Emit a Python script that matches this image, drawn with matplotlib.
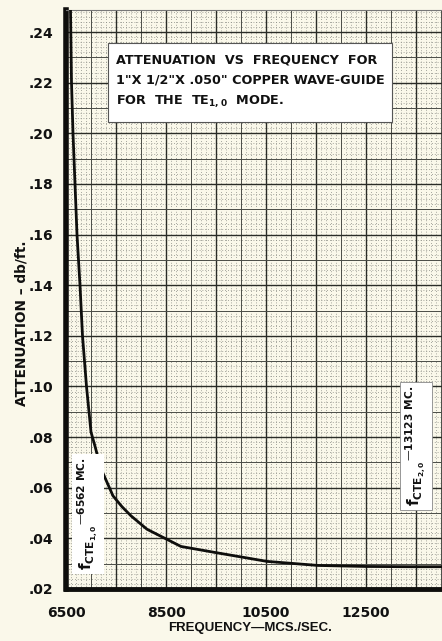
import matplotlib.pyplot as plt
from matplotlib.patches import Rectangle
import numpy as np

# attenuation curve
freq_mc = [6590, 6610, 6640, 6680, 6720, 6780, 6830, 6910, 7000, 7080, 7200, 7440, 7620,
           7800, 8120, 8800, 9460, 10520, 11540, 12500, 13400, 14020]
atten_db = [0.249, 0.22, 0.20, 0.18, 0.16, 0.14, 0.12, 0.10, 0.082, 0.0764, 0.0675, 0.0568,
            0.0525, 0.0489, 0.0436, 0.0368, 0.0345, 0.0309, 0.0293, 0.0289, 0.0288, 0.0288]

x_ticks = [6500, 8500, 10500, 12500]
x_tick_labels = ['6500', '8500', '10500', '12500']
y_ticks = [0.02, 0.04, 0.06, 0.08, 0.10, 0.12, 0.14, 0.16, 0.18, 0.20, 0.22, 0.24]
y_tick_labels = ['.02', '.04', '.06', '.08', '.10', '.12', '.14', '.16', '.18', '.20', '.22', '.24']

titulo = ['ATTENUATION  VS  FREQUENCY  FOR',
          '1"X 1/2"X .050" COPPER WAVE-GUIDE',
          r'FOR  THE  TE$_{\mathregular{1,0}}$  MODE.']
corte_1 = r'f$_{\mathregular{CTE}_{\mathregular{1,0}}}$$^{\mathregular{—6562\ MC.}}$'
corte_2 = r'f$_{\mathregular{CTE}_{\mathregular{2,0}}}$$^{\mathregular{—13123\ MC.}}$'

papel = '#faf8ea'
tinta = '#2a2c27'
W, H = 442, 641

def px(x, y):
    return x / W, 1 - y / H

plt.rcParams['font.family'] = 'DejaVu Sans'
plt.rcParams['font.weight'] = 'bold'
plt.rcParams['mathtext.default'] = 'regular'

fig = plt.figure(figsize=(W / 100, H / 100), dpi=100, facecolor=papel)
ax = fig.add_axes([66 / W, 1 - 589 / H, (W - 66) / W, (589 - 10) / H])
ax.set_facecolor(papel)
ax.set_xlim(6500, 6500 + (W - 66) * 20)
ax.set_ylim(0.02, 0.2487)

# papel milimetrado: lineas gruesas, medias y punteadas
for f in range(6500, 14100, 100):
    if (f - 6500) % 1000 == 0:
        ax.axvline(f, color=tinta, lw=1.0, zorder=1)
    elif (f - 6500) % 500 == 0:
        ax.axvline(f, color='#4a4c46', lw=0.7, zorder=1)
    else:
        ax.axvline(f, color='#8a8c85', lw=0.6, linestyle=(0, (1, 2.4)), zorder=0.5)
for i in range(0, 115):
    y = 0.02 + i * 0.002
    if i % 10 == 0:
        ax.axhline(y, color=tinta, lw=1.0, zorder=1)
    elif i % 5 == 0:
        ax.axhline(y, color='#4a4c46', lw=0.7, zorder=1)
    else:
        ax.axhline(y, color='#8a8c85', lw=0.6, linestyle=(0, (1, 2.4)), zorder=0.5)

ax.plot(freq_mc, atten_db, color='#0e0e0c', lw=2.0, zorder=3, solid_capstyle='round',
        solid_joinstyle='round')

ax.set_xticks(x_ticks)
ax.set_xticklabels(x_tick_labels, fontsize=10, fontweight='bold')
ax.set_yticks(y_ticks)
ax.set_yticklabels(y_tick_labels, fontsize=10, fontweight='bold')
ax.tick_params(axis='x', length=0, pad=12, colors='#111')
ax.tick_params(axis='y', length=0, pad=9, colors='#111')

ax.spines['left'].set_linewidth(4)
ax.spines['bottom'].set_linewidth(3.5)
ax.spines['top'].set_linewidth(0.8)
ax.spines['top'].set_color('#777')
ax.spines['right'].set_visible(False)
for s in ['left', 'bottom']:
    ax.spines[s].set_color('#0e0e0c')

# cuadro del titulo
x0, y0 = px(108, 122)
x1, y1 = px(392, 43)
fig.patches.append(Rectangle((x0, y0), x1 - x0, y1 - y0, transform=fig.transFigure,
                             facecolor='white', edgecolor='#555', lw=0.8, zorder=5))
for linea, yy in zip(titulo, [60, 80, 101]):
    fig.text(*px(116, yy), linea, fontsize=9.2, fontweight='bold', va='center', ha='left',
             color='#111', zorder=6)

# frecuencias de corte
fig.text(*px(88, 514), corte_1, rotation=90, fontsize=11, fontweight='bold', ha='center',
         va='center', color='#111', zorder=6,
         bbox=dict(facecolor='white', edgecolor='none', pad=2.5))
fig.text(*px(416, 446), corte_2, rotation=90, fontsize=11, fontweight='bold', ha='center',
         va='center', color='#111', zorder=6,
         bbox=dict(facecolor='white', edgecolor='#888', lw=0.6, pad=2.5))

fig.text(*px(22, 323), 'ATTENUATION – db/ft.', rotation=90, fontsize=9.8, fontweight='bold',
         ha='center', va='center', color='#111')
fig.text(*px(250, 628), 'FREQUENCY—MCS./SEC.', fontsize=9.5, fontweight='bold',
         family='Liberation Sans', ha='center', va='center', color='#111')

fig.savefig('out.png', dpi=100, facecolor=papel)
